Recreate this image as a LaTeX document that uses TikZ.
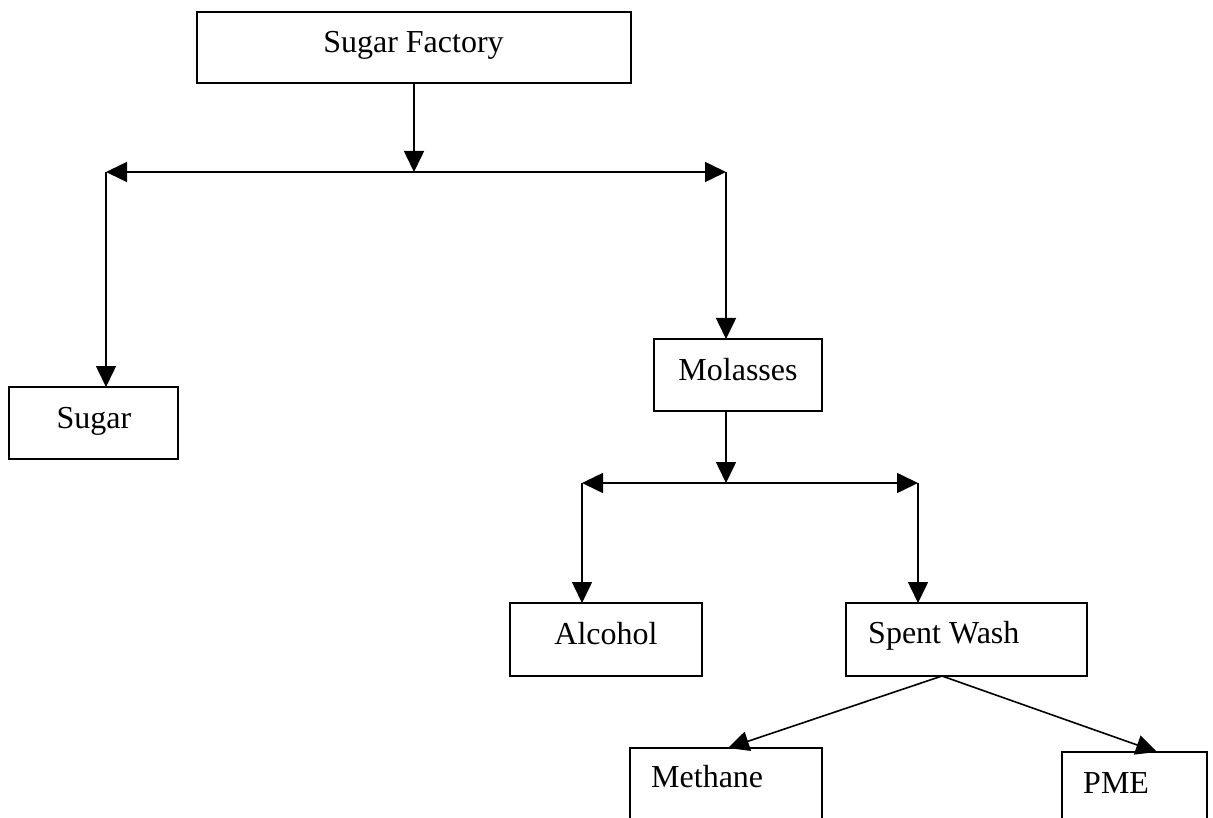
\documentclass[tikz,border=0pt]{standalone}
\usepackage{fontspec}
\setmainfont{Liberation Serif}
\usetikzlibrary{arrows.meta}
\begin{document}
\begin{tikzpicture}[x=1pt,y=-1pt,
  box/.style={draw, line width=1.6pt, inner sep=0pt, outer sep=0pt, anchor=north west},
  lbl/.style={inner sep=0pt, font=\fontsize{32}{38}\selectfont},
  conn/.style={line width=1.6pt},
  arr/.style={conn, -{Triangle[length=21pt,width=20pt]}}]
\useasboundingbox (0,0) rectangle (1213,818);
\clip (0,0) rectangle (1213,818);
% boxes
\node[box, minimum width=434pt, minimum height=71pt] (sf) at (197,12) {};
\node[box, minimum width=169pt, minimum height=72pt] (sugar) at (9,387) {};
\node[box, minimum width=168pt, minimum height=72pt] (mol) at (654,339) {};
\node[box, minimum width=192pt, minimum height=73pt] (alc) at (510,603) {};
\node[box, minimum width=241pt, minimum height=73pt] (sw) at (846,603) {};
\node[box, minimum width=192pt, minimum height=100pt] (meth) at (630,748) {};
\node[box, minimum width=145pt, minimum height=100pt] (pme) at (1062,752) {};
% texts
\node[lbl, anchor=base] (tsf) at (413.5,53) {Sugar Factory};
\node[lbl, anchor=base] (tsugar) at (94,428) {Sugar};
\node[lbl, anchor=base] (tmol) at (738,380) {Molasses};
\node[lbl, anchor=base] (talc) at (606,644) {Alcohol};
\node[lbl, anchor=base west] (tsw) at (868,643) {Spent Wash};
\node[lbl, anchor=base west] (tmeth) at (651,787) {Methane};
\node[lbl, anchor=base west] (tpme) at (1083,793) {PME};
% junctions
\coordinate (j1) at (414,172);
\coordinate (jl) at (106,172);
\coordinate (jr) at (726,172);
\coordinate (j2) at (726,483);
\coordinate (j2l) at (582,483);
\coordinate (j2r) at (918,483);
\coordinate (swb) at (942,676);
\coordinate (methtop) at (728,748);
\coordinate (pmetop) at (1157,752);
% connectors
\draw[arr] (sf.south) -- (j1);
\draw[arr] (j1) -- (jl);
\draw[arr] (j1) -- (jr);
\draw[arr] (jl) -- (jl |- sugar.north);
\draw[arr] (jr) -- (jr |- mol.north);
\draw[arr] (mol.south -| j2) -- (j2);
\draw[arr] (j2) -- (j2l);
\draw[arr] (j2) -- (j2r);
\draw[arr] (j2l) -- (j2l |- alc.north);
\draw[arr] (j2r) -- (j2r |- sw.north);
\draw[arr] (swb) -- (methtop);
\draw[arr] (swb) -- (pmetop);
\end{tikzpicture}
\end{document}
